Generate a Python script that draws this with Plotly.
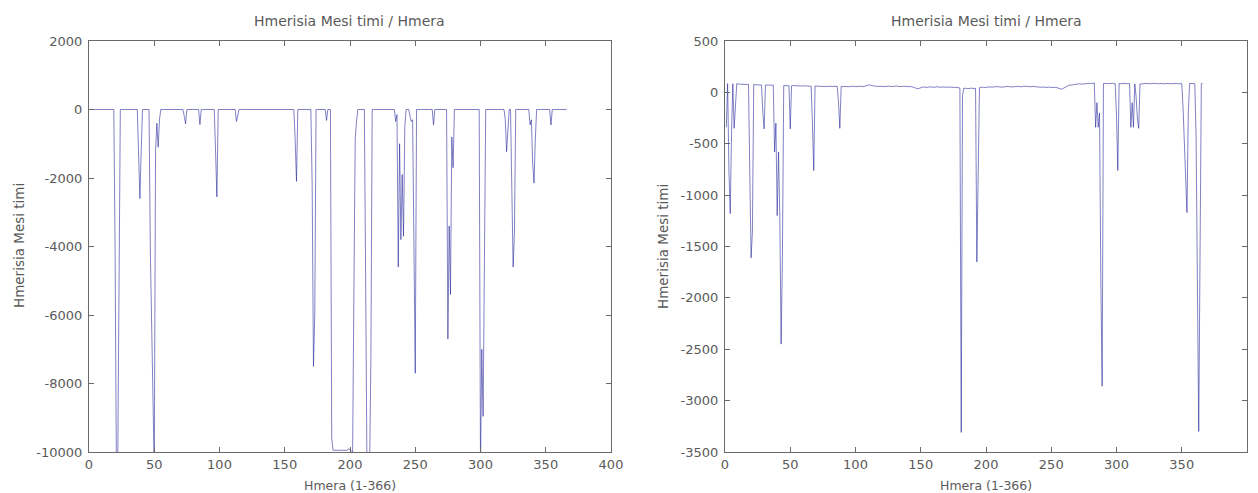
import plotly.graph_objects as go

# ---------------- data ----------------
days = list(range(1, 367))

# Left panel: flat at 0, dips listed by day
left_dip_days = [20, 21, 22, 23, 38, 39, 40, 47, 48, 49, 50, 51, 52, 53, 54,
                 73, 74, 85, 97, 98, 113, 114, 158, 159, 171, 172, 173, 182,
                 186, 187, 188, 189, 190, 191, 192, 193, 194, 195, 196, 197, 198,
                 199, 200, 201, 202, 203, 204, 205,
                 212, 213, 214, 215, 216,
                 235, 236, 237, 238, 239, 240, 241, 242, 246, 247, 248, 249, 250,
                 264, 275, 276, 277, 278, 279, 300, 301, 302, 303,
                 319, 320, 321, 324, 325, 326, 338, 339, 340, 341, 342, 354]
left_dip_vals = [-4100, -10500, -10500, -5000, -1300, -2600, -1200, -4100, -6600, -9400, -10500, -1200, -400, -1100, -300,
                 -200, -420, -440, -1250, -2550, -350, -150, -900, -2100, -2200, -7500, -6000, -320,
                 -9600, -9950, -9950, -9960, -9950, -9950, -9950, -9960, -9950, -9950, -9950, -9950, -9950,
                 -9900, -9950, -9960, -10000, -5300, -850, -350,
                 -5000, -10500, -10500, -10500, -7300,
                 -350, -150, -4600, -1000, -3800, -1900, -3700, -500, -200, -350, -300, -5000, -7700,
                 -450, -6700, -3400, -5400, -800, -1700, -10500, -7000, -8960, -4200,
                 -300, -1230, -600, -2500, -4600, -3600, -450, -300, -1570, -2150, -880, -450]

# Right panel: wavy baseline (one value per day) plus dips
right_base = [
    85, 85, 84, 86, 85, 84, 83, 85, 84, 82, 80, 79, 78, 80, 79, 77, 76, 78, 77, 75, 74, 76, 75, 73, 74, 72, 73, 71, 72, 70,
    71, 70, 72, 70, 69, 71, 70, 68, 70, 69, 67, 68, 66, 68, 67, 65, 66, 64, 65, 63, 64, 66, 65, 63, 62, 64, 63, 61, 62, 64,
    63, 61, 60, 62, 61, 59, 60, 62, 61, 60, 58, 60, 59, 61, 60, 58, 59, 57, 59, 58, 60, 59, 57, 58, 56, 58, 57, 55, 57, 56,
    58, 60, 57, 55, 54, 56, 58, 61, 59, 56, 54, 57, 60, 62, 59, 56, 58, 62, 67, 72, 74, 70, 65, 62, 60, 58, 57, 59, 61, 60,
    58, 56, 59, 62, 64, 61, 58, 55, 57, 60, 63, 61, 58, 56, 54, 57, 60, 58, 55, 53, 55, 58, 56, 52, 48, 42, 37, 36, 40, 47,
    52, 54, 50, 47, 49, 52, 55, 53, 50, 48, 51, 54, 52, 49, 47, 50, 53, 51, 48, 46, 49, 52, 50, 47, 45, 48, 50, 47, 44, 42,
    40, 38, 40, 42, 39, 37, 40, 43, 41, 38, 36, 39, 41, 44, 46, 49, 52, 50, 47, 50, 53, 56, 54, 51, 49, 52, 55, 58, 56, 53,
    50, 48, 51, 54, 57, 60, 58, 55, 52, 50, 53, 56, 59, 61, 58, 55, 53, 56, 59, 62, 60, 57, 54, 52, 55, 58, 56, 53, 50, 48,
    46, 49, 52, 50, 47, 45, 48, 51, 49, 46, 44, 47, 50, 48, 45, 42, 36, 30, 38, 50, 58, 62, 66, 70, 68, 72, 75, 78, 76, 80,
    82, 84, 80, 83, 86, 88, 85, 87, 90, 88, 86, 89, 91, 88, 85, 87, 90, 92, 89, 86, 88, 90, 87, 85, 88, 91, 89, 86, 84, 87,
    89, 86, 83, 85, 88, 86, 83, 81, 84, 87, 85, 82, 80, 83, 86, 88, 85, 82, 80, 83, 85, 88, 90, 87, 84, 82, 85, 88, 86, 83,
    81, 84, 87, 89, 86, 83, 85, 88, 90, 87, 84, 82, 85, 87, 89, 86, 84, 86, 88, 85, 83, 85, 87, 86, 84, 85, 87, 86, 85, 84,
    85, 86, 85, 84, 85, 86]
right_dip_days = [1, 3, 4, 5, 7, 8, 19, 20, 21, 29, 30, 38, 39, 40, 41, 42, 43, 44, 50, 67, 68, 87, 88,
                  181, 182, 193, 194, 284, 285, 286, 287, 288, 289, 300, 301, 311, 312, 313, 315, 316, 317,
                  351, 352, 353, 354, 355, 361, 362, 363, 364]
right_dip_vals = [-340, -760, -1180, -400, -350, -150, -780, -1610, -1360, -200, -355, -580, -300, -1200, -580, -1200, -2450, -1600, -355, -300, -760, -100, -350,
                  -3310, -30, -1650, -790, -340, -100, -340, -200, -1820, -2860, -225, -760, -340, -100, -340, -40, -250, -350,
                  -150, -470, -740, -1170, -200, -440, -1590, -3300, -1590]

x_ticks = [0, 50, 100, 150, 200, 250, 300, 350, 400]
left_y_ticks = [-10000, -8000, -6000, -4000, -2000, 0, 2000]
right_y_ticks = [-3500, -3000, -2500, -2000, -1500, -1000, -500, 0, 500]

title_text = "Hmerisia Mesi timi / Hmera"
x_label = "Hmera (1-366)"
y_label = "Hmerisia Mesi timi"

# ---------------- build series ----------------
left_y = [0] * len(days)
for d, v in zip(left_dip_days, left_dip_vals):
    left_y[d - 1] = v
right_y = list(right_base)
for d, v in zip(right_dip_days, right_dip_vals):
    right_y[d - 1] = v

W, H = 1258, 493
FONT = "DejaVu Sans, Arial, sans-serif"
TXT = "#5a5a5a"
AX = "#6a6a6a"
LINE = "rgba(25,25,150,0.55)"

fig = go.Figure()
fig.add_trace(go.Scatter(x=days, y=left_y, mode="lines", line=dict(color=LINE, width=1),
                         xaxis="x", yaxis="y", showlegend=False, hoverinfo="skip"))
fig.add_trace(go.Scatter(x=days, y=right_y, mode="lines", line=dict(color=LINE, width=1),
                         xaxis="x2", yaxis="y2", showlegend=False, hoverinfo="skip"))

def px_x(p):
    return p / W

def px_y(p):
    return (H - p) / H

def fmt(v):
    return str(v)  # plain hyphen-minus like the original

common = dict(showline=True, linecolor=AX, linewidth=1, mirror="ticks", ticks="inside",
              ticklen=5, tickcolor=AX, showgrid=False, zeroline=False, automargin=False,
              tickfont=dict(family=FONT, size=13, color=TXT))

ydom = [px_y(452), px_y(41)]
fig.update_layout(
    width=W, height=H, margin=dict(l=0, r=0, t=0, b=0),
    paper_bgcolor="white", plot_bgcolor="white",
    xaxis=dict(domain=[px_x(89), px_x(611)], range=[0, 400], anchor="y",
               tickvals=x_ticks, ticktext=[fmt(t) for t in x_ticks], **common),
    yaxis=dict(domain=ydom, range=[-10000, 2000], anchor="x",
               tickvals=left_y_ticks, ticktext=[fmt(t) for t in left_y_ticks],
               ticklabelstandoff=3, **common),
    xaxis2=dict(domain=[px_x(725), px_x(1247)], range=[0, 400], anchor="y2",
                tickvals=x_ticks, ticktext=[fmt(t) for t in x_ticks], **common),
    yaxis2=dict(domain=ydom, range=[-3500, 500], anchor="x2",
                tickvals=right_y_ticks, ticktext=[fmt(t) for t in right_y_ticks],
                ticklabelstandoff=3, **common),
)

ann = []
for cx, ylx in [((89 + 611) / 2, 19), ((725 + 1247) / 2, 663)]:
    ann.append(dict(text=title_text, x=px_x(cx), y=px_y(21), xref="paper", yref="paper",
                    showarrow=False, xanchor="center", yanchor="middle",
                    font=dict(family=FONT, size=14, color=TXT)))
    ann.append(dict(text=x_label, x=px_x(cx), y=px_y(485), xref="paper", yref="paper",
                    showarrow=False, xanchor="center", yanchor="middle",
                    font=dict(family=FONT, size=12.5, color=TXT)))
    ann.append(dict(text=y_label, x=px_x(ylx), y=px_y(246), xref="paper", yref="paper",
                    showarrow=False, xanchor="center", yanchor="middle", textangle=-90,
                    font=dict(family=FONT, size=13.5, color=TXT)))
fig.update_layout(annotations=ann)

fig.write_html("out.html")
